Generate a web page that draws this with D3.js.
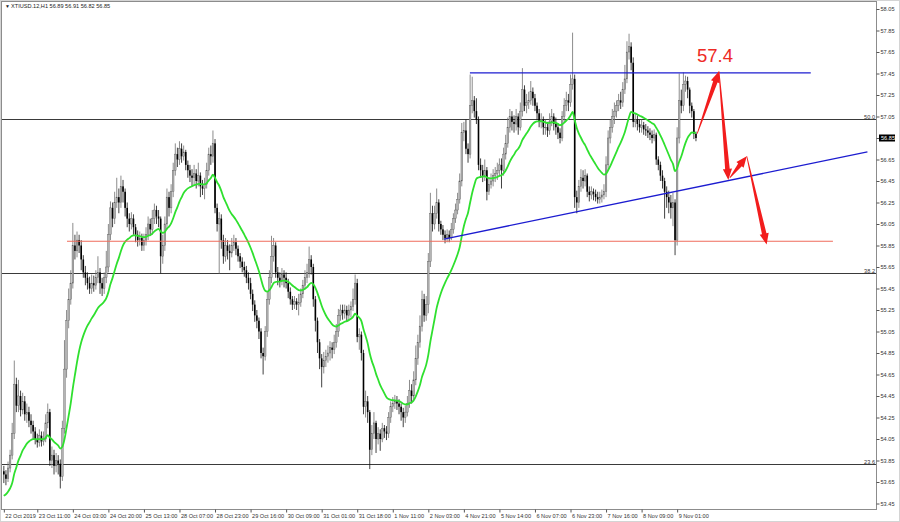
<!DOCTYPE html>
<html><head><meta charset="utf-8">
<script src="https://cdn.jsdelivr.net/npm/d3@7"></script>
<style>
html,body{margin:0;padding:0;background:#fff;}
svg{display:block;}
text{font-family:"Liberation Sans",Arial,sans-serif;}
</style></head>
<body>
<svg id="c" width="900" height="522"></svg>
<script>
// ---------- DATA ----------
const symbolTitle = "XTIUSD.12,H1  56.89 56.91 56.82 56.85";
const firstOpen = 53.75;
const closes = [
53.72,53.68,53.78,53.90,54.10,54.56,54.36,54.45,54.32,54.40,
54.28,54.30,54.22,54.18,54.12,54.05,54.02,54.08,54.03,54.05,
54.20,54.30,53.85,53.90,53.80,53.85,53.82,53.70,54.15,54.70,
55.15,55.35,55.50,55.85,55.80,55.90,55.85,55.72,55.60,55.55,
55.50,55.45,55.50,55.48,55.55,55.60,55.50,55.45,55.55,55.65,
55.95,56.20,56.10,56.25,56.30,56.25,56.40,56.35,56.20,56.10,
56.05,56.10,56.02,55.95,55.90,55.92,55.85,55.90,55.95,56.05,
56.00,56.10,56.18,56.12,56.10,55.75,55.85,56.05,56.30,56.20,
56.35,56.55,56.70,56.65,56.75,56.68,56.72,56.60,56.55,56.50,
56.48,56.52,56.45,56.50,56.40,56.38,56.42,56.55,56.70,56.68,
56.80,56.20,56.05,56.10,55.90,55.75,55.85,55.80,55.78,55.85,
55.88,55.82,55.75,55.70,55.65,55.62,55.55,55.50,55.40,55.30,
55.20,55.15,55.05,54.85,54.82,55.05,55.35,55.55,55.75,55.85,
55.60,55.55,55.52,55.58,55.55,55.50,55.42,55.35,55.30,55.33,
55.30,55.32,55.40,55.48,55.55,55.60,55.72,55.65,55.35,55.15,
54.95,54.80,54.72,54.78,54.82,54.85,54.90,54.88,54.95,55.05,
55.20,55.25,55.22,55.25,55.20,55.25,55.28,55.35,55.50,55.00,
55.02,54.85,54.35,54.40,54.30,53.95,54.10,54.20,54.05,54.10,
54.05,54.15,54.12,54.10,54.25,54.35,54.38,54.40,54.38,54.35,
54.30,54.25,54.30,54.38,54.50,54.45,54.60,54.80,54.95,55.10,
55.35,55.20,55.30,55.70,56.15,56.05,56.15,56.25,56.05,56.00,
55.95,55.92,55.95,55.92,56.00,56.10,56.18,56.28,56.45,56.90,
56.92,56.75,56.70,57.15,57.20,57.10,57.02,56.60,56.55,56.50,
56.55,56.35,56.42,56.45,56.50,56.52,56.55,56.60,56.55,56.70,
56.80,56.95,57.05,57.00,56.98,57.05,56.95,57.10,57.30,57.15,
57.18,57.20,57.28,57.22,57.15,57.08,57.00,57.02,56.95,56.95,
56.92,57.00,57.05,56.98,56.95,56.90,56.85,57.05,57.15,57.20,
57.18,57.35,57.40,56.30,56.25,56.40,56.48,56.45,56.50,56.35,
56.32,56.35,56.33,56.30,56.28,56.30,56.32,56.35,56.60,56.85,
56.95,57.05,57.10,57.15,57.20,57.18,57.30,57.40,57.65,57.70,
57.55,57.00,57.02,56.98,56.95,56.97,56.93,56.92,56.90,56.88,
56.85,56.88,56.65,56.60,56.50,56.45,56.35,56.30,56.25,56.20,
56.25,55.90,56.85,57.20,57.15,57.35,57.38,57.30,57.15,57.10,
56.89,56.85];
const highs = [
53.80,53.76,53.84,53.95,54.20,54.78,54.62,54.60,54.50,54.48,
54.45,54.38,54.35,54.28,54.22,54.16,54.10,54.14,54.12,54.12,
54.28,54.38,54.33,53.98,53.95,53.92,53.90,53.86,54.22,54.97,
55.25,55.45,55.62,56.06,55.95,55.98,55.95,55.90,55.76,55.66,
55.60,55.56,55.58,55.57,55.62,55.75,55.64,55.55,55.60,55.80,
56.05,56.26,56.25,56.35,56.48,56.38,56.50,56.46,56.38,56.25,
56.15,56.16,56.14,56.05,55.99,55.98,55.96,55.96,56.02,56.12,
56.10,56.18,56.24,56.22,56.18,56.12,55.95,56.12,56.38,56.35,
56.42,56.62,56.80,56.76,56.82,56.80,56.78,56.74,56.64,56.60,
56.56,56.60,56.56,56.62,56.53,56.46,56.48,56.62,56.76,56.78,
56.92,56.84,56.24,56.16,56.14,55.95,55.92,55.90,55.86,55.92,
55.95,55.92,55.85,55.78,55.74,55.70,55.66,55.60,55.55,55.44,
55.34,55.25,55.18,55.08,54.90,55.10,55.42,55.62,55.94,55.92,
55.88,55.65,55.60,55.64,55.62,55.60,55.54,55.46,55.38,55.38,
55.36,55.40,55.45,55.53,55.62,55.68,55.84,55.76,55.68,55.38,
55.18,54.98,54.84,54.86,54.88,54.92,54.96,54.95,55.02,55.12,
55.26,55.30,55.30,55.30,55.29,55.30,55.33,55.45,55.58,55.54,
55.08,55.05,54.88,54.50,54.45,54.32,54.18,54.30,54.22,54.16,
54.14,54.20,54.18,54.17,54.30,54.40,54.44,54.46,54.45,54.42,
54.38,54.34,54.36,54.45,54.60,54.56,54.68,54.92,55.02,55.20,
55.43,55.40,55.38,55.78,56.34,56.22,56.22,56.38,56.28,56.08,
56.04,55.99,56.00,55.99,56.06,56.15,56.24,56.34,56.52,56.99,
57.00,57.02,56.80,57.44,57.42,57.24,57.22,57.05,56.66,56.60,
56.65,56.58,56.48,56.52,56.56,56.58,56.62,56.66,56.66,56.76,
56.88,57.04,57.12,57.10,57.06,57.12,57.08,57.18,57.50,57.34,
57.26,57.28,57.38,57.32,57.26,57.18,57.12,57.08,57.05,57.02,
57.00,57.08,57.12,57.08,57.04,56.98,56.94,57.10,57.22,57.28,
57.26,57.44,57.83,57.44,56.36,56.46,56.56,56.55,56.56,56.52,
56.40,56.40,56.38,56.37,56.35,56.35,56.37,56.42,56.68,56.92,
57.02,57.12,57.18,57.20,57.26,57.28,57.37,57.53,57.75,57.82,
57.74,57.60,57.08,57.06,57.02,57.02,57.00,56.98,56.96,56.94,
56.92,56.93,56.90,56.68,56.63,56.55,56.48,56.40,56.36,56.32,
56.34,56.28,56.95,57.45,57.30,57.46,57.43,57.42,57.32,57.18,
57.12,56.91];
const lows = [
53.64,53.62,53.65,53.74,53.86,54.05,54.30,54.30,54.26,54.28,
54.22,54.20,54.16,54.10,54.05,54.00,53.97,53.98,53.98,53.99,
54.02,54.15,53.80,53.78,53.72,53.74,53.72,53.59,53.66,54.10,
54.62,55.08,55.30,55.45,55.72,55.74,55.78,55.62,55.55,55.48,
55.44,55.40,55.40,55.42,55.44,55.50,55.40,55.38,55.40,55.50,
55.60,55.90,56.02,56.05,56.20,56.15,56.20,56.25,56.12,56.02,
55.98,56.00,55.95,55.88,55.84,55.85,55.80,55.80,55.85,55.90,
55.94,55.95,56.05,56.05,56.02,55.59,55.68,55.80,56.00,56.12,
56.15,56.30,56.50,56.58,56.60,56.62,56.64,56.55,56.48,56.44,
56.40,56.42,56.38,56.40,56.30,56.32,56.28,56.38,56.50,56.60,
56.62,56.15,55.98,55.59,55.82,55.68,55.70,55.72,55.62,55.74,
55.80,55.76,55.70,55.64,55.60,55.56,55.50,55.44,55.35,55.24,
55.14,55.08,54.98,54.80,54.65,54.78,55.00,55.30,55.50,55.70,
55.55,55.48,55.46,55.48,55.46,55.45,55.36,55.30,55.25,55.26,
55.25,55.20,55.28,55.36,55.44,55.50,55.55,55.58,55.28,55.05,
54.85,54.70,54.53,54.66,54.72,54.76,54.78,54.80,54.84,54.90,
55.00,55.15,55.16,55.17,55.14,55.15,55.18,55.24,55.30,54.95,
54.88,54.78,54.28,54.25,54.20,53.77,53.90,54.05,53.92,54.00,
53.94,54.02,54.06,54.04,54.06,54.20,54.30,54.33,54.32,54.28,
54.22,54.16,54.20,54.26,54.34,54.38,54.40,54.55,54.74,54.90,
55.05,55.14,55.15,55.22,55.65,55.98,56.00,56.10,55.98,55.95,
55.90,55.87,55.88,55.88,55.90,55.96,56.06,56.14,56.24,56.40,
56.82,56.70,56.62,56.66,57.08,57.04,56.98,56.55,56.48,56.44,
56.45,56.27,56.32,56.38,56.40,56.44,56.46,56.50,56.38,56.50,
56.65,56.76,56.90,56.92,56.90,56.92,56.88,56.92,57.05,57.10,
57.08,57.12,57.16,57.15,57.10,57.02,56.95,56.94,56.88,56.88,
56.86,56.88,56.96,56.92,56.88,56.84,56.80,56.82,57.00,57.10,
57.10,57.14,57.30,56.20,56.15,56.20,56.35,56.38,56.40,56.30,
56.26,56.28,56.27,56.26,56.24,56.24,56.25,56.28,56.30,56.55,
56.80,56.90,56.98,57.04,57.10,57.12,57.14,57.26,57.36,57.58,
57.48,56.95,56.95,56.92,56.90,56.90,56.88,56.87,56.85,56.83,
56.80,56.82,56.60,56.55,56.45,56.38,56.10,56.20,56.15,56.10,
56.03,55.76,55.85,56.80,57.08,57.10,57.28,57.22,57.08,57.04,
56.84,56.82];
const maPeriod = 20;          // moving average period (exponential)
const maSeed = 53.50;         // MA value just before the first visible bar

const yTicks = [58.05,57.85,57.65,57.45,57.25,57.05,56.85,56.65,56.45,56.25,56.05,55.85,
                55.65,55.45,55.25,55.05,54.85,54.65,54.45,54.25,54.05,53.85,53.65,53.45];
const xTickIdx = [0,16,33,50,67,84,101,118,135,152,169,186,203,220,237,254,271,288,305,322];
const xTickLabels = ["22 Oct 2019","23 Oct 11:00","24 Oct 03:00","24 Oct 20:00","25 Oct 13:00",
  "28 Oct 07:00","28 Oct 23:00","29 Oct 16:00","30 Oct 09:00","31 Oct 01:00","31 Oct 18:00",
  "1 Nov 11:00","2 Nov 03:00","4 Nov 21:00","5 Nov 14:00","6 Nov 07:00","6 Nov 23:00",
  "7 Nov 16:00","8 Nov 09:00","9 Nov 01:00"];
const lastPrice = 56.85;

const fibLevels = [57.03, 55.59, 53.82];
const fibLabels = ["50.0", "38.2", "23.6"];
const supportLine = {from: 30.2, to: 396.5, price: 55.89};       // red horizontal
const resistLine  = {from: 222.9, to: 385.9, price: 57.455};     // blue horizontal
const trendLine   = [[210.5, 55.91], [413, 56.72]];              // blue rising trend line
const arrowSegs = [                                              // red forecast arrows [bar, price]
  [[331.6, 56.89], [342.0, 57.47]],
  [[342.0, 57.47], [346.5, 56.46]],
  [[347.2, 56.48], [355.3, 56.68]],
  [[355.3, 56.68], [364.8, 55.86]]
];
const targetText = "57.4";
const targetPos = [331.5, 57.557];

// ---------- CHART ----------
const W = 900, H = 522;
const plot = {l: 2, t: 2, r: 876, b: 509};
const svg = d3.select("#c");

const x = d3.scaleLinear().domain([0, closes.length - 1]).range([3.84, 3.84 + 2.091 * (closes.length - 1)]);
const y = d3.scaleLinear().domain([53.45, 58.05]).range([503.5, 9]);

svg.append("rect").attr("x",0.5).attr("y",0.5).attr("width",W-1).attr("height",H-1)
  .attr("fill","#fff").attr("stroke","#d4d4d4");

svg.append("defs").append("clipPath").attr("id","clip").append("rect")
  .attr("x",plot.l).attr("y",plot.t).attr("width",plot.r-plot.l).attr("height",plot.b-plot.t);
const g = svg.append("g").attr("clip-path","url(#clip)");

// fib lines
g.selectAll("line.fib").data(fibLevels).join("line").attr("class","fib")
  .attr("x1",plot.l).attr("x2",plot.r)
  .attr("y1",d=>Math.round(y(d))+0.5).attr("y2",d=>Math.round(y(d))+0.5)
  .attr("stroke","#3a3a3a").attr("stroke-width",1);

// candles
const bars = closes.map((c,i)=>{
  const o = i===0 ? firstOpen : closes[i-1];
  return {i, o, c, h: Math.max(highs[i], o, c), l: Math.min(lows[i], o, c)};
});
const cg = g.append("g");
cg.selectAll("line.wick").data(bars).join("line").attr("class","wick")
  .attr("x1",d=>x(d.i)).attr("x2",d=>x(d.i))
  .attr("y1",d=>y(d.h)).attr("y2",d=>y(d.l))
  .attr("stroke",d=>d.c>=d.o?"#6e6e6e":"#111").attr("stroke-width",0.8);
cg.selectAll("rect.body").data(bars).join("rect").attr("class","body")
  .attr("x",d=>x(d.i)-0.8).attr("width",1.6)
  .attr("y",d=>y(Math.max(d.o,d.c)))
  .attr("height",d=>Math.max(0.6, Math.abs(y(d.o)-y(d.c))))
  .attr("fill",d=>d.c>=d.o?"#b4b4b4":"#000")
  .attr("stroke",d=>d.c>=d.o?"#5a5a5a":"none").attr("stroke-width",0.4);

// moving average (exponential, computed from closes)
const alpha = 2/(maPeriod+1);
let e = maSeed;
const ma = closes.map((c,i)=>{ e = e + alpha*(c-e); return {i, v:e}; });
g.append("path").datum(ma)
  .attr("fill","none").attr("stroke","#2fe02f").attr("stroke-width",1.8)
  .attr("d", d3.line().x(d=>x(d.i)).y(d=>y(d.v)).curve(d3.curveMonotoneX));

// support (red) / resistance (blue) / trend line
g.append("line").attr("x1",x(supportLine.from)).attr("x2",x(supportLine.to))
  .attr("y1",y(supportLine.price)).attr("y2",y(supportLine.price))
  .attr("stroke","#ef6b5b").attr("stroke-width",1.1);
g.append("line").attr("x1",x(resistLine.from)).attr("x2",x(resistLine.to))
  .attr("y1",y(resistLine.price)).attr("y2",y(resistLine.price))
  .attr("stroke","#1c1cd0").attr("stroke-width",1.3);
g.append("line").attr("x1",x(trendLine[0][0])).attr("x2",x(trendLine[1][0]))
  .attr("y1",y(trendLine[0][1])).attr("y2",y(trendLine[1][1]))
  .attr("stroke","#1c1cd0").attr("stroke-width",1.3);

// red arrows
function arrowPath(p0, p1){
  const x0=x(p0[0]), y0=y(p0[1]), x1=x(p1[0]), y1=y(p1[1]);
  const dx=x1-x0, dy=y1-y0, L=Math.hypot(dx,dy);
  const ux=dx/L, uy=dy/L, nx=-uy, ny=ux;
  const headL=Math.min(11, L*0.4), headW=4.6, bodyW=2.3, tailW=0.4;
  const bx=x1-ux*headL, by=y1-uy*headL;
  const pts=[
    [x0+nx*tailW, y0+ny*tailW],
    [bx+nx*bodyW, by+ny*bodyW],
    [bx+nx*headW, by+ny*headW],
    [x1, y1],
    [bx-nx*headW, by-ny*headW],
    [bx-nx*bodyW, by-ny*bodyW],
    [x0-nx*tailW, y0-ny*tailW]
  ];
  return "M"+pts.map(p=>p[0].toFixed(2)+","+p[1].toFixed(2)).join("L")+"Z";
}
svg.selectAll("path.arrow").data(arrowSegs).join("path").attr("class","arrow")
  .attr("d",d=>arrowPath(d[0],d[1])).attr("fill","#f21d1d");
svg.append("text").attr("x",x(targetPos[0])).attr("y",y(targetPos[1]))
  .attr("font-size",18.5).attr("fill","#ee2a24").text(targetText);

// frame
svg.append("rect").attr("x",plot.l-0.5).attr("y",plot.t-0.5)
  .attr("width",plot.r-plot.l+1).attr("height",plot.b-plot.t+1)
  .attr("fill","none").attr("stroke","#8c8c8c").attr("stroke-width",1);

// fib labels
svg.selectAll("text.fibl").data(fibLevels).join("text").attr("class","fibl")
  .attr("x",plot.r-1).attr("y",d=>Math.round(y(d))-0.5)
  .attr("text-anchor","end").attr("font-size",5.6).attr("fill","#333")
  .text((d,i)=>fibLabels[i]);

// y axis
const ya = svg.append("g").attr("transform",`translate(${plot.r+0.5},0)`)
  .call(d3.axisRight(y).tickValues(yTicks).tickSize(3).tickPadding(1).tickFormat(d3.format(".2f")));
ya.select(".domain").remove();
ya.selectAll("line").attr("stroke","#555");
ya.selectAll("text").attr("font-size",5.6).attr("fill","#333").attr("font-family","Liberation Sans, Arial, sans-serif");

// current price label
const lp = svg.append("g").attr("transform",`translate(${plot.r+3},${y(lastPrice)})`);
lp.append("rect").attr("x",0).attr("y",-3.5).attr("width",16).attr("height",7).attr("fill","#000");
lp.append("text").attr("x",2).attr("y",2).attr("font-size",5.6).attr("fill","#fff").text(d3.format(".2f")(lastPrice));

// x axis
const xa = svg.append("g").attr("transform",`translate(0,${plot.b+0.5})`)
  .call(d3.axisBottom(x).tickValues(xTickIdx).tickSize(3).tickPadding(2)
    .tickFormat((d,i)=>xTickLabels[i]));
xa.select(".domain").remove();
xa.selectAll("line").attr("stroke","#555");
xa.selectAll("text").attr("text-anchor","start").attr("dx",1).attr("dy","0.6em")
  .attr("font-size",5.6).attr("fill","#333").attr("font-family","Liberation Sans, Arial, sans-serif");

// header
svg.append("text").attr("x",5).attr("y",8).attr("font-size",5).attr("fill","#222").text("▼");
svg.append("text").attr("x",11).attr("y",8).attr("font-size",5.6).attr("fill","#222").text(symbolTitle);
</script>
</body></html>
